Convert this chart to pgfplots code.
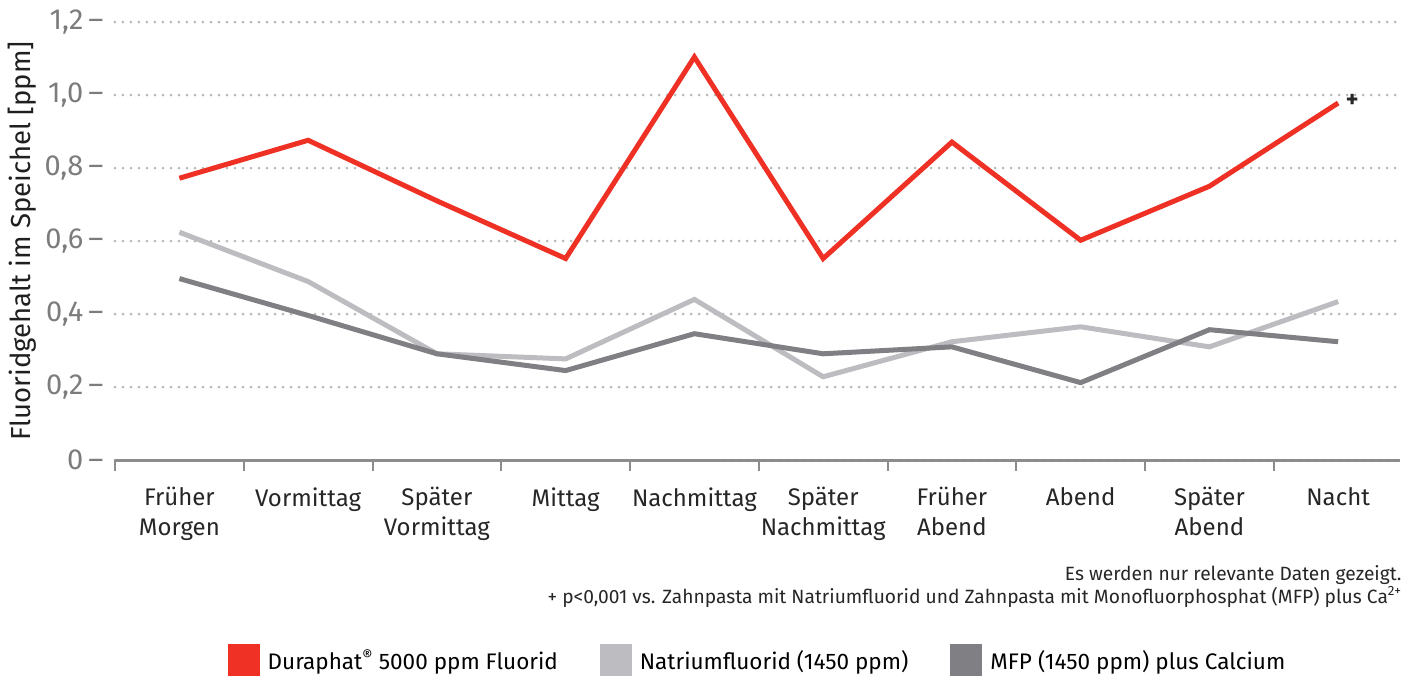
\documentclass[border=0pt]{standalone}
\usepackage{fontspec}
\setmainfont{Fira Sans}
\usepackage{pgfplots}
\pgfplotsset{compat=1.18}
\definecolor{dred}{HTML}{EE3124}
\definecolor{lgray}{HTML}{BDBDC1}
\definecolor{dgray}{HTML}{808084}
\definecolor{gridc}{HTML}{B8B8B8}
\definecolor{tickc}{HTML}{7C7C7C}
\definecolor{axc}{HTML}{8C8C8C}
\newcommand{\yt}[1]{\mbox{\fontsize{29}{32}\selectfont #1\hspace{5pt}–}}
\begin{document}
\begin{tikzpicture}
\path[use as bounding box] (-115pt,-218pt) rectangle (1299pt,460pt);
\begin{axis}[
  at={(0pt,0pt)}, anchor=south west,
  scale only axis, width=1285pt, height=438pt,
  xmin=-0.5, xmax=9.48, ymin=0, ymax=1.2,
  axis x line*=bottom, axis y line*=left,
  y axis line style={draw=none},
  x axis line style={draw=axc, line width=3pt, -},
  xtick={0,...,9},
  xticklabels={{Früher\\Morgen},Vormittag,{Später\\Vormittag},Mittag,Nachmittag,{Später\\Nachmittag},{Früher\\Abend},Abend,{Später\\Abend},Nacht},
  xticklabel style={align=center, font=\fontsize{24}{30}\selectfont, text=black!85, anchor=north, yshift=-24pt},
  minor xtick={-0.5,0.5,...,8.5},
  major tick length=0pt,
  minor tick length=11pt,
  tick align=outside,
  minor x tick style={draw=axc, line width=2pt},
  ytick={0,0.2,0.4,0.6,0.8,1.0,1.2},
  yticklabels={{\yt{0}},{\yt{0,2}},{\yt{0,4}},{\yt{0,6}},{\yt{0,8}},{\yt{1,0}},{\yt{1,2}}},
  yticklabel style={text=tickc, anchor=east, xshift=-8pt},
  ymajorgrids,
  y grid style={gridc, line width=3pt, line cap=round, dash pattern=on 0pt off 8pt},
  ylabel={Fluoridgehalt im Speichel [ppm]},
  ylabel style={at={(axis description cs:-0.0724,0.5)}, anchor=center, font=\fontsize{27.5}{30}\selectfont, text=black!88},
  clip=false,
  no markers,
  legend columns=3,
  legend image code/.code={\fill[#1] (0pt,-13pt) rectangle (27pt,14pt);},
  legend style={at={(axis description cs:0.5,-0.498)}, anchor=south, draw=none, fill=none,
    font=\fontsize{22.5}{26}\selectfont,
    /tikz/every odd column/.append style={column sep=6pt},
    /tikz/every even column/.append style={column sep=40pt}},
]
\addplot[dred, line width=5pt] coordinates {(0,0.772) (1,0.876) (2,0.71) (3,0.552) (4,1.104) (5,0.552) (6,0.871) (7,0.602) (8,0.75) (9,0.978)};
\addlegendentry{Duraphat\textsuperscript{®} 5000 ppm Fluorid}
\addplot[lgray, line width=5pt] coordinates {(0,0.624) (1,0.489) (2,0.291) (3,0.277) (4,0.44) (5,0.228) (6,0.324) (7,0.365) (8,0.31) (9,0.434)};
\addlegendentry{Natriumfluorid (1450 ppm)}
\addplot[dgray, line width=5pt] coordinates {(0,0.497) (1,0.396) (2,0.291) (3,0.245) (4,0.346) (5,0.291) (6,0.31) (7,0.212) (8,0.357) (9,0.324)};
\addlegendentry{MFP (1450 ppm) plus Calcium}
\node[font=\fontsize{24}{24}\selectfont\bfseries, text=black!85] at (axis cs:9,0.978) [xshift=14pt, yshift=2pt] {+};
\end{axis}
\node[anchor=base east, font=\fontsize{19.2}{22}\selectfont, text=black!85] at (1290pt,-120pt) {Es werden nur relevante Daten gezeigt.};
\node[anchor=base east, font=\fontsize{19.2}{22}\selectfont, text=black!85] at (1290pt,-143pt) {+ p<0,001 vs. Zahnpasta mit Natriumfluorid und Zahnpasta mit Monofluorphosphat (MFP) plus Ca\textsuperscript{2+}};
\end{tikzpicture}
\end{document}
